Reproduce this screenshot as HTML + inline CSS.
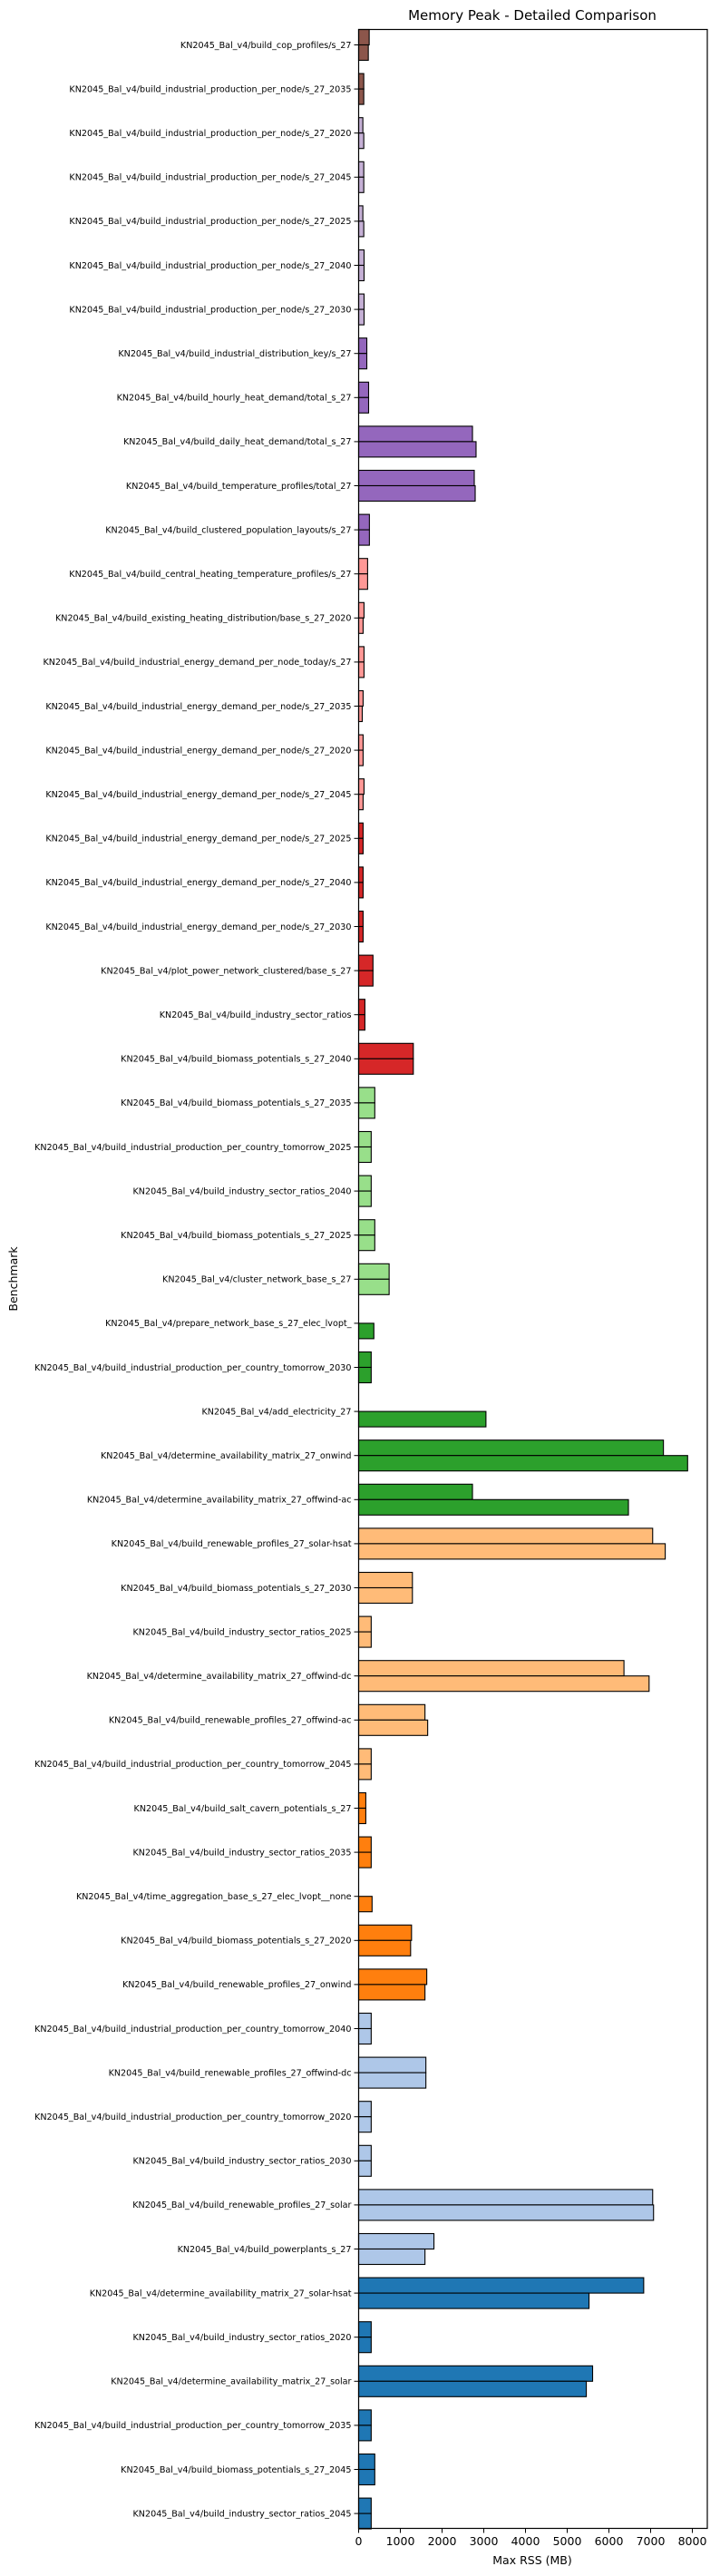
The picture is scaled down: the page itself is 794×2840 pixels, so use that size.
<!DOCTYPE html>
<html><head><meta charset="utf-8"><title>Memory Peak - Detailed Comparison</title>
<style>html,body{margin:0;padding:0;background:#fff}svg{display:block;font-family:"DejaVu Sans","Liberation Sans",sans-serif}</style>
</head><body>
<svg id="chart" width="794" height="2840" viewBox="0 0 794 2840" xmlns="http://www.w3.org/2000/svg">
<rect width="794" height="2840" fill="#fff"/>
<text x="587" y="22" text-anchor="middle" font-size="15" fill="#000">Memory Peak - Detailed Comparison</text>
<g id="bars"></g>
<g id="yticks"></g>
<g id="xticks"></g>
<rect x="395.5" y="32.5" width="384.5" height="2755" fill="none" stroke="#000" stroke-width="1.2"/>
<text x="587" y="2827" text-anchor="middle" font-size="12.5" fill="#000">Max RSS (MB)</text>
<text transform="translate(19,1410) rotate(-90)" text-anchor="middle" font-size="12.5" fill="#000">Benchmark</text>
</svg>
<script>
const categories = [
"build_cop_profiles/s_27",
"build_industrial_production_per_node/s_27_2035",
"build_industrial_production_per_node/s_27_2020",
"build_industrial_production_per_node/s_27_2045",
"build_industrial_production_per_node/s_27_2025",
"build_industrial_production_per_node/s_27_2040",
"build_industrial_production_per_node/s_27_2030",
"build_industrial_distribution_key/s_27",
"build_hourly_heat_demand/total_s_27",
"build_daily_heat_demand/total_s_27",
"build_temperature_profiles/total_27",
"build_clustered_population_layouts/s_27",
"build_central_heating_temperature_profiles/s_27",
"build_existing_heating_distribution/base_s_27_2020",
"build_industrial_energy_demand_per_node_today/s_27",
"build_industrial_energy_demand_per_node/s_27_2035",
"build_industrial_energy_demand_per_node/s_27_2020",
"build_industrial_energy_demand_per_node/s_27_2045",
"build_industrial_energy_demand_per_node/s_27_2025",
"build_industrial_energy_demand_per_node/s_27_2040",
"build_industrial_energy_demand_per_node/s_27_2030",
"plot_power_network_clustered/base_s_27",
"build_industry_sector_ratios",
"build_biomass_potentials_s_27_2040",
"build_biomass_potentials_s_27_2035",
"build_industrial_production_per_country_tomorrow_2025",
"build_industry_sector_ratios_2040",
"build_biomass_potentials_s_27_2025",
"cluster_network_base_s_27",
"prepare_network_base_s_27_elec_lvopt_",
"build_industrial_production_per_country_tomorrow_2030",
"add_electricity_27",
"determine_availability_matrix_27_onwind",
"determine_availability_matrix_27_offwind-ac",
"build_renewable_profiles_27_solar-hsat",
"build_biomass_potentials_s_27_2030",
"build_industry_sector_ratios_2025",
"determine_availability_matrix_27_offwind-dc",
"build_renewable_profiles_27_offwind-ac",
"build_industrial_production_per_country_tomorrow_2045",
"build_salt_cavern_potentials_s_27",
"build_industry_sector_ratios_2035",
"time_aggregation_base_s_27_elec_lvopt__none",
"build_biomass_potentials_s_27_2020",
"build_renewable_profiles_27_onwind",
"build_industrial_production_per_country_tomorrow_2040",
"build_renewable_profiles_27_offwind-dc",
"build_industrial_production_per_country_tomorrow_2020",
"build_industry_sector_ratios_2030",
"build_renewable_profiles_27_solar",
"build_powerplants_s_27",
"determine_availability_matrix_27_solar-hsat",
"build_industry_sector_ratios_2020",
"determine_availability_matrix_27_solar",
"build_industrial_production_per_country_tomorrow_2035",
"build_biomass_potentials_s_27_2045",
"build_industry_sector_ratios_2045"
];
const prefix = "KN2045_Bal_v4/";
const runA = [253,123,101,123,101,130,130,196,239,2729,2772,258,215,129,129,107,107,129,107,107,107,344,150,1311,387,301,301,387,731,null,301,null,7307,2729,7049,1289,301,6361,1590,301,172,301,null,1268,1633,301,1612,301,301,7049,1805,6834,301,5609,301,387,301];
const runB = [232,123,123,123,123,130,130,196,239,2815,2794,258,215,107,129,86,107,107,107,107,107,344,150,1311,387,301,301,387,731,365,301,3052,7887,6468,7350,1289,301,6963,1655,301,172,301,322,1246,1590,301,1612,301,301,7070,1590,5523,301,5458,301,387,301];
const groupColors = ["#8c564b","#c5b0d5","#9467bd","#ff9896","#d62728","#98df8a","#2ca02c","#ffbb78","#ff7f0e","#aec7e8","#1f77b4"];
const groupSizes = [2,5,5,6,6,5,5,6,5,6,6];
const xTicks = [0,1000,2000,3000,4000,5000,6000,7000,8000];

const NS = "http://www.w3.org/2000/svg";
const X0 = 395.5, PXPER = 0.0460, Y0 = 49.5, STEP = 48.6, BH = 17;
function xs(v){ return X0 + v*PXPER; }
function ys(i){ return Y0 + i*STEP; }
const colorOf = [];
groupSizes.forEach((n,g)=>{ for(let k=0;k<n;k++) colorOf.push(groupColors[g]); });

const barsG = document.getElementById("bars");
const yG = document.getElementById("yticks");
const xG = document.getElementById("xticks");
function mk(tag, attrs, parent){ const e=document.createElementNS(NS,tag); for(const k in attrs) e.setAttribute(k,attrs[k]); parent.appendChild(e); return e; }

categories.forEach((c,i)=>{
  const cy = ys(i);
  [[runA[i], cy-BH, 'a'],[runB[i], cy, 'b']].forEach(([v,top,s])=>{
    if(v==null) return;
    const r = mk("rect",{x:X0,y:top,width:Math.max(0,xs(v)-X0),height:BH,fill:colorOf[i],stroke:"#000","stroke-width":1.1},barsG);
    
    
  });
  const t = mk("line",{x1:X0-5,x2:X0,y1:cy,y2:cy,stroke:"#000","stroke-width":1},yG);
  
  
  const l = mk("text",{x:X0-8,y:cy+3.3,"text-anchor":"end","font-size":"9.6",fill:"#000"},yG);
  l.textContent = prefix + c;
  
  
});
xTicks.forEach(v=>{
  const x = xs(v);
  const t = mk("line",{x1:x,x2:x,y1:2787.5,y2:2792.5,stroke:"#000","stroke-width":1},xG);
  
  
  const l = mk("text",{x:x,y:2806,"text-anchor":"middle","font-size":"12.5",fill:"#000"},xG);
  l.textContent = String(v);
  
  
});
</script>
</body></html>
